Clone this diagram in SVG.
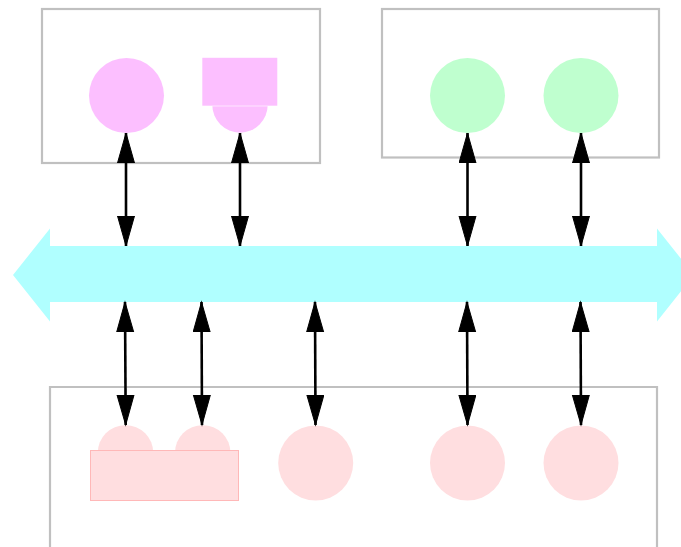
<svg xmlns="http://www.w3.org/2000/svg" width="681" height="547" viewBox="0 0 681 547">
<style>
.cluster{fill:none;stroke:#c0c0c0;stroke-width:2.2}
.pk{fill:#fcbfff}
.gr{fill:#bfffcf}
.rd{fill:#ffdee0}
.edge{stroke:#000;stroke-width:2.6;fill:none;marker-start:url(#ah);marker-end:url(#ah)}
</style>
<defs>
<marker id="ah" markerUnits="userSpaceOnUse" markerWidth="32" markerHeight="20" refX="30" refY="9" orient="auto-start-reverse">
<path d="M0,0.5 L30,9 L0,17.5 z" fill="#000" stroke="#000" stroke-width="1"/>
</marker>
</defs>
<g id="bus">
<path d="M13,275 L50,228.5 L50,246 L657,246 L657,228.5 L694,275 L657,321.5 L657,302 L50,302 L50,321.5 z" fill="#b0ffff"/>
</g>
<g id="cluster_top_left">
<rect class="cluster" x="42" y="9" width="278" height="154"/>
</g>
<g id="cluster_top_right">
<rect class="cluster" x="382" y="9" width="277" height="148.5"/>
</g>
<g id="cluster_bottom">
<path class="cluster" d="M50,550 L50,387 L657,387 L657,550"/>
</g>
<g id="node_t1"><circle class="pk" cx="126.5" cy="95.5" r="37.5"/></g>
<g id="node_t2">
<circle class="pk" cx="240" cy="105" r="27.7"/>
<rect class="pk" x="202" y="57.5" width="75.7" height="48.5" stroke="#fff" stroke-width="0.6"/>
</g>
<g id="node_t3"><circle class="gr" cx="467.5" cy="95.5" r="37.5"/></g>
<g id="node_t4"><circle class="gr" cx="581" cy="95.5" r="37.5"/></g>
<g id="node_b1">
<circle class="rd" cx="125.5" cy="453" r="27.8"/>
<circle class="rd" cx="202.7" cy="453" r="27.8"/>
<rect class="rd" x="90.5" y="450.5" width="148" height="50" stroke="#ffb8b8" stroke-width="1"/>
</g>
<g id="node_b3"><circle class="rd" cx="315.7" cy="463" r="37.5"/></g>
<g id="node_b4"><circle class="rd" cx="467.5" cy="463" r="37.5"/></g>
<g id="node_b5"><circle class="rd" cx="581" cy="463" r="37.5"/></g>
<g id="edges">
<line class="edge" x1="126" y1="133" x2="126" y2="246"/>
<line class="edge" x1="240" y1="133" x2="240" y2="246"/>
<line class="edge" x1="467.5" y1="133" x2="467.5" y2="246"/>
<line class="edge" x1="581" y1="133" x2="581" y2="246"/>
<line class="edge" x1="125" y1="302" x2="125.7" y2="425"/>
<line class="edge" x1="201.5" y1="302" x2="202" y2="425"/>
<line class="edge" x1="315" y1="302" x2="315.5" y2="425"/>
<line class="edge" x1="467" y1="302" x2="467.5" y2="425"/>
<line class="edge" x1="580.5" y1="302" x2="581" y2="425"/>
</g>
</svg>
